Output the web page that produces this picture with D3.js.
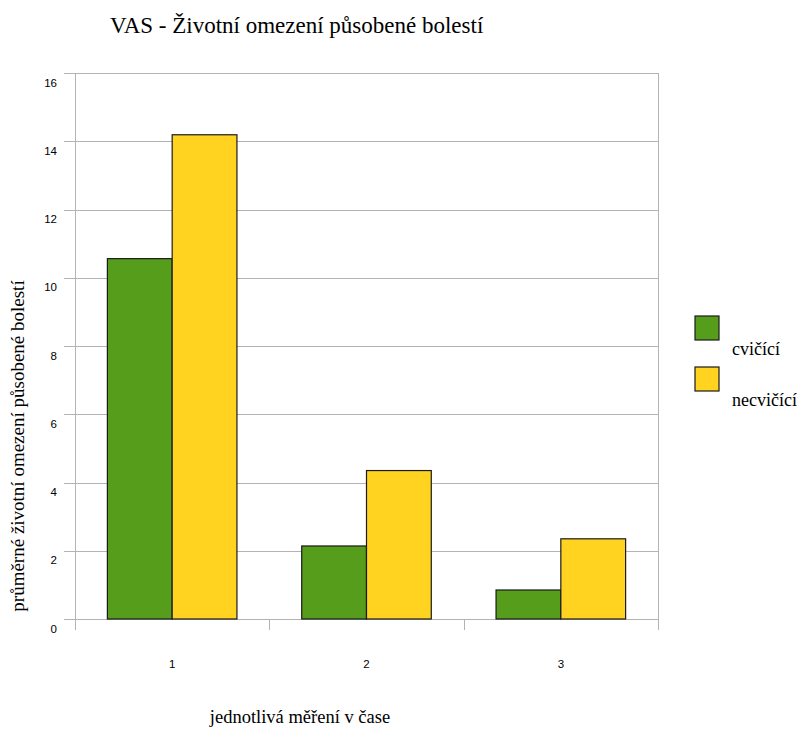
<!DOCTYPE html>
<html>
<head>
<meta charset="utf-8">
<script src="https://cdn.jsdelivr.net/npm/d3@7"></script>
<style>
  body { margin: 0; background: #fff; }
  svg { display: block; }
  .serif { font-family: 'Liberation Serif', 'DejaVu Serif', serif; }
  .sans { font-family: 'Liberation Sans', 'DejaVu Sans', sans-serif; }
</style>
</head>
<body>
<svg id="chart" width="803" height="729"></svg>
<script>
// Measurement rounds and the mean pain-related life limitation per group
const categories = ["1", "2", "3"];
const seriesNames = ["cvičící", "necvičící"];
const cvicici = [10.56, 2.14, 0.85];
const necvicici = [14.19, 4.35, 2.35];
const yTicks = [0, 2, 4, 6, 8, 10, 12, 14, 16];
const colors = ["#579d1c", "#ffd320"];

const svg = d3.select("#chart");
const plotLeft = 75, plotRight = 658, plotTop = 73, plotBottom = 619;

const x = d3.scaleBand().domain(categories).range([plotLeft, plotRight]).paddingInner(0).paddingOuter(0);
const xSeries = d3.scaleBand().domain(seriesNames).range([0, x.bandwidth()]).paddingInner(0).paddingOuter(0.5);
const y = d3.scaleLinear().domain([0, 16]).range([plotBottom, plotTop]);

// Horizontal grid lines with short ticks to the left of the axis
svg.append("g").selectAll("line").data(yTicks).join("line")
  .attr("x1", plotLeft - 11).attr("x2", plotRight)
  .attr("y1", d => Math.round(y(d)) + 0.5).attr("y2", d => Math.round(y(d)) + 0.5)
  .attr("stroke", "#b3b3b3").attr("stroke-width", 1);

// Y axis labels
svg.append("g").selectAll("text").data(yTicks).join("text")
  .attr("class", "sans")
  .attr("x", 57).attr("y", d => y(d) + 13.5)
  .attr("text-anchor", "end")
  .attr("font-size", 11.5).attr("fill", "#000")
  .text(d => d);

// Vertical frame lines
svg.append("line").attr("x1", plotLeft + 0.5).attr("x2", plotLeft + 0.5).attr("y1", plotTop).attr("y2", plotBottom + 11)
  .attr("stroke", "#b3b3b3");
svg.append("line").attr("x1", plotRight + 0.5).attr("x2", plotRight + 0.5).attr("y1", plotTop).attr("y2", plotBottom + 11)
  .attr("stroke", "#b3b3b3");

// Category boundary ticks below the baseline
const boundaries = categories.slice(1).map(c => x(c));
svg.append("g").selectAll("line").data(boundaries).join("line")
  .attr("x1", d => Math.round(d) + 0.5).attr("x2", d => Math.round(d) + 0.5)
  .attr("y1", plotBottom).attr("y2", plotBottom + 11)
  .attr("stroke", "#b3b3b3");

// Bars
const data = categories.map((c, i) => ({ c, values: [cvicici[i], necvicici[i]] }));
const groups = svg.append("g").selectAll("g").data(data).join("g")
  .attr("transform", d => `translate(${x(d.c)},0)`);
groups.selectAll("rect").data(d => d.values.map((v, j) => ({ v, s: seriesNames[j], j }))).join("rect")
  .attr("x", d => xSeries(d.s))
  .attr("width", xSeries.bandwidth())
  .attr("y", d => y(d.v))
  .attr("height", d => y(0) - y(d.v))
  .attr("fill", d => colors[d.j])
  .attr("stroke", "#1a1a1a").attr("stroke-width", 1.2);

// X axis labels
svg.append("g").selectAll("text").data(categories).join("text")
  .attr("class", "sans")
  .attr("x", d => x(d) + x.bandwidth() / 2)
  .attr("y", 668)
  .attr("text-anchor", "middle")
  .attr("font-size", 11.5)
  .text(d => d);

// Title and axis titles
svg.append("text").attr("class", "serif").attr("x", 110).attr("y", 33)
  .attr("font-size", 23)
  .text("VAS - Životní omezení působené bolestí");
svg.append("text").attr("class", "serif").attr("x", 300).attr("y", 723).attr("text-anchor", "middle")
  .attr("font-size", 18.5)
  .text("jednotlivá měření v čase");
svg.append("text").attr("class", "serif").attr("transform", "translate(24,446) rotate(-90)").attr("text-anchor", "middle")
  .attr("font-size", 19)
  .text("průměrné životní omezení působené bolestí");

// Legend
const legend = svg.append("g").selectAll("g").data(seriesNames).join("g")
  .attr("transform", (d, i) => `translate(695,${316 + i * 51})`);
legend.append("rect").attr("width", 24).attr("height", 24)
  .attr("fill", (d, i) => colors[i]).attr("stroke", "#1a1a1a").attr("stroke-width", 1.2);
legend.append("text").attr("class", "serif").attr("x", 37).attr("y", 39)
  .attr("font-size", 18)
  .text(d => d);
</script>
</body>
</html>
